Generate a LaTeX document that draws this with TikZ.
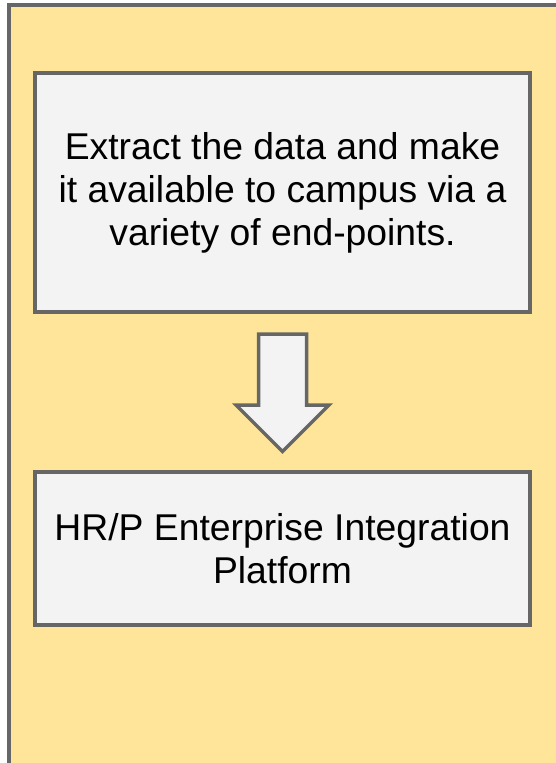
\documentclass[tikz,border=0pt]{standalone}
\usepackage{fontspec}
\setmainfont{Liberation Sans}
\usepackage{tikz}

\definecolor{notebg}{HTML}{FFE599}
\definecolor{edgegray}{HTML}{666666}
\definecolor{boxfill}{HTML}{F3F3F3}

\begin{document}
\begin{tikzpicture}[
            x=1pt, y=-1pt,
            main box/.style={rectangle, draw=edgegray, fill=boxfill, line width=4pt, minimum width=495pt, align=center, inner sep=0pt, font=\fontsize{37.3}{43}\selectfont},
            block arrow/.style={draw=edgegray, fill=boxfill, line width=3.5pt, line join=miter},
            ]
            \useasboundingbox (0,0) rectangle (556,763);

            \fill[notebg] (9,4.5) rectangle (556,763);
            \draw[edgegray, line width=4pt] (556,4.5) -- (9,4.5) -- (9,763);

            \node[main box, minimum height=239pt] (extract) at (282.5,192.5) {Extract the data and make\\it available to campus via a\\variety of end-points.};
            \node[main box, minimum height=153pt] (platform) at (282.5,548.5) {HR/P Enterprise Integration\\Platform};

            \draw[block arrow] (258.5,334) -- (306.5,334) -- (306.5,405) -- (329,405) -- (282.5,451.5) -- (236,405) -- (258.5,405) -- cycle;
        \end{tikzpicture}
\end{document}
